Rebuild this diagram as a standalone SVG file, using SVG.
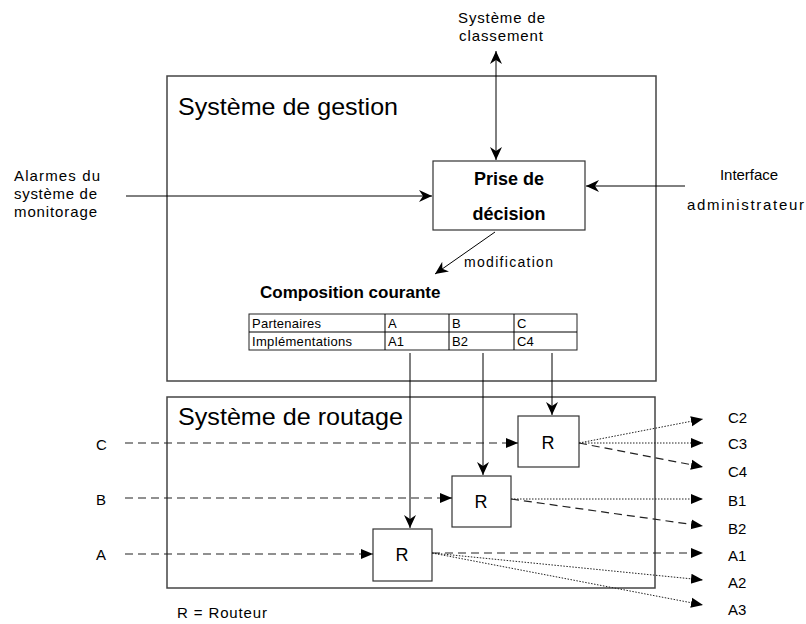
<svg xmlns="http://www.w3.org/2000/svg" width="806" height="624" viewBox="0 0 806 624">
<style>
text{font-family:"Liberation Sans",Arial,sans-serif;fill:#000}
.lbl{font-size:15px}
.big{font-size:24px}
.bold{font-size:18px;font-weight:bold}
.r{font-size:18px}
.tab{font-size:13px}
.cont{fill:none;stroke:#444;stroke-width:1.5}
.box{fill:#fff;stroke:#333;stroke-width:1.2}
.ln{fill:none;stroke:#000;stroke-width:1}
.dash{fill:none;stroke:#222;stroke-width:1.2;stroke-dasharray:8,5}
.dot{fill:none;stroke:#222;stroke-width:1;stroke-dasharray:1.5,1.5}
</style>
<defs>
<marker id="st" markerUnits="userSpaceOnUse" markerWidth="14" markerHeight="14" refX="13" refY="7" orient="auto-start-reverse" viewBox="0 0 14 14">
<path d="M0,1 L13,7 L0,13 L4,7 z" fill="#000"/>
</marker>
<marker id="tri" markerUnits="userSpaceOnUse" markerWidth="12" markerHeight="12" refX="12" refY="6" orient="auto" viewBox="0 0 12 12">
<path d="M0,1 L12,6 L0,11 z" fill="#000"/>
</marker>
</defs>
<rect width="806" height="624" fill="#fff"/>

<g id="gestion">
<rect class="cont" x="167" y="76" width="489" height="305"/>
<text class="big" x="178" y="115" textLength="220" lengthAdjust="spacingAndGlyphs">Système de gestion</text>
</g>
<g id="routage">
<rect class="cont" x="167" y="397" width="488" height="191"/>
<text class="big" x="178" y="425" textLength="225" lengthAdjust="spacingAndGlyphs">Système de routage</text>
</g>

<g id="classement">
<text class="lbl" x="458" y="23" textLength="87">Système de</text>
<text class="lbl" x="459" y="41" textLength="84">classement</text>
</g>
<g id="alarmes">
<text class="lbl" x="14" y="181" textLength="86">Alarmes du</text>
<text class="lbl" x="14" y="199" textLength="83">système de</text>
<text class="lbl" x="14" y="217" textLength="83">monitorage</text>
</g>
<g id="interface">
<text class="lbl" x="720" y="180" textLength="58">Interface</text>
<text class="lbl" x="687" y="210" textLength="117">administrateur</text>
</g>

<g id="decision">
<rect class="box" x="433" y="161" width="152" height="69"/>
<text class="bold" x="509" y="185" text-anchor="middle">Prise de</text>
<text class="bold" x="509" y="220" text-anchor="middle">décision</text>
</g>

<g id="composition">
<text class="bold" x="260" y="298" style="font-size:17px">Composition courante</text>
<rect fill="#fff" stroke="#222" stroke-width="1" x="249" y="314" width="328" height="36"/>
<path class="ln" d="M249,332H577M385,314V350M449,314V350M514,314V350"/>
<text class="tab" x="252" y="328" textLength="69">Partenaires</text>
<text class="tab" x="252" y="346" textLength="100">Implémentations</text>
<text class="tab" x="388" y="328">A</text>
<text class="tab" x="388" y="346">A1</text>
<text class="tab" x="452" y="328">B</text>
<text class="tab" x="452" y="346">B2</text>
<text class="tab" x="517" y="328">C</text>
<text class="tab" x="517" y="346">C4</text>
</g>

<g id="routerC">
<rect class="box" x="518" y="416" width="61" height="51"/>
<text class="r" x="548" y="449" text-anchor="middle">R</text>
</g>
<g id="routerB">
<rect class="box" x="452" y="476" width="59" height="51"/>
<text class="r" x="481" y="508" text-anchor="middle">R</text>
</g>
<g id="routerA">
<rect class="box" x="373" y="529" width="59" height="52"/>
<text class="r" x="402" y="561" text-anchor="middle">R</text>
</g>

<g id="labels">
<text class="lbl" x="96" y="450">C</text>
<text class="lbl" x="96" y="505">B</text>
<text class="lbl" x="96" y="560">A</text>
<text class="lbl" x="728" y="423">C2</text>
<text class="lbl" x="728" y="449">C3</text>
<text class="lbl" x="728" y="477">C4</text>
<text class="lbl" x="728" y="506">B1</text>
<text class="lbl" x="728" y="534">B2</text>
<text class="lbl" x="728" y="561">A1</text>
<text class="lbl" x="728" y="588">A2</text>
<text class="lbl" x="728" y="615">A3</text>
<text class="lbl" x="177" y="618" textLength="90">R = Routeur</text>
<text class="lbl" x="464" y="267" textLength="89" style="font-size:14px">modification</text>
</g>

<g id="connectors">
<line class="ln" x1="496" y1="51" x2="496" y2="160" marker-start="url(#st)" marker-end="url(#st)"/>
<line class="ln" x1="126" y1="196" x2="432" y2="196" marker-end="url(#st)"/>
<line class="ln" x1="685" y1="186" x2="586" y2="186" marker-end="url(#st)"/>
<line class="ln" x1="495" y1="232" x2="435" y2="274" marker-end="url(#st)" stroke-width="0.8"/>
<line class="ln" x1="410" y1="353" x2="410" y2="528" marker-end="url(#st)"/>
<line class="ln" x1="483" y1="353" x2="483" y2="475" marker-end="url(#st)"/>
<line class="ln" x1="552" y1="353" x2="552" y2="415" marker-end="url(#st)"/>

<line class="dash" x1="125" y1="443" x2="518" y2="443" marker-end="url(#tri)"/>
<line class="dash" x1="125" y1="498" x2="452" y2="498" marker-end="url(#tri)"/>
<line class="dash" x1="125" y1="554" x2="373" y2="554" marker-end="url(#tri)"/>

<line class="dot" x1="579" y1="443" x2="703" y2="419" marker-end="url(#tri)"/>
<line class="dot" x1="579" y1="443" x2="703" y2="443" marker-end="url(#tri)"/>
<line class="dash" x1="579" y1="443" x2="703" y2="467" marker-end="url(#tri)"/>

<line class="dot" x1="511" y1="499" x2="703" y2="499" marker-end="url(#tri)" stroke-width="1.5"/>
<line class="dash" x1="511" y1="499" x2="703" y2="526" marker-end="url(#tri)"/>

<line class="dash" x1="432" y1="553" x2="703" y2="553" marker-end="url(#tri)"/>
<line class="dot" x1="432" y1="553" x2="703" y2="580" marker-end="url(#tri)"/>
<line class="dot" x1="432" y1="553" x2="703" y2="605" marker-end="url(#tri)"/>
</g>
</svg>
